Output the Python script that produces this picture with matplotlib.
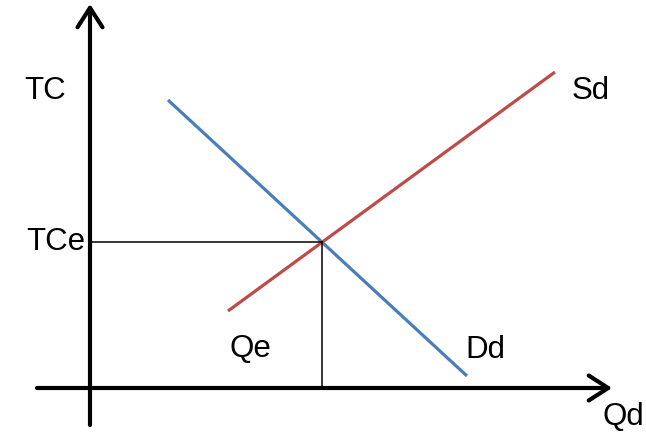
import matplotlib.pyplot as plt
import numpy as np

plt.rcParams['font.family'] = ['Liberation Sans', 'DejaVu Sans']

# end points of the two curves (quantity, cost)
demand_q = [78, 377]
demand_tc = [288, 12]
supply_q = [138, 465]
supply_tc = [77, 316]

# equilibrium where the two lines cross
md = (demand_tc[1] - demand_tc[0]) / (demand_q[1] - demand_q[0])
ms = (supply_tc[1] - supply_tc[0]) / (supply_q[1] - supply_q[0])
bd = demand_tc[0] - md * demand_q[0]
bs = supply_tc[0] - ms * supply_q[0]
qe = (bs - bd) / (md - ms)
tce = md * qe + bd

fig = plt.figure(figsize=(6.46, 4.32), dpi=100)
ax = fig.add_axes([0, 0, 1, 1])
ax.set_xlim(-90, 556)
ax.set_ylim(-44, 388)
ax.axis('off')

# axes with arrows
arrow = dict(arrowstyle='->, head_length=0.7, head_width=0.45', lw=3, color='black',
             mutation_scale=20, shrinkA=0, shrinkB=0)
ax.annotate('', xy=(522, 0), xytext=(-53, 0), arrowprops=arrow)
ax.annotate('', xy=(0, 384), xytext=(0, -37), arrowprops=arrow)

ax.plot(demand_q, demand_tc, color='#4a7ebb', lw=2.3, solid_capstyle='butt')
ax.plot(supply_q, supply_tc, color='#be4b48', lw=2.3, solid_capstyle='butt')

# guide lines to equilibrium
ax.plot([2, qe], [tce, tce], color='black', lw=1.1)
ax.plot([qe, qe], [tce, 1], color='black', lw=1.1)

fs = 22.5
ax.text(-45, 297, 'TC', fontsize=fs, ha='center', va='center')
ax.text(-5, tce, 'TCe', fontsize=fs, ha='right', va='center')
ax.text(501, 297, 'Sd', fontsize=fs, ha='center', va='center')
ax.text(160, 39, 'Qe', fontsize=fs, ha='center', va='center')
ax.text(395, 38, 'Dd', fontsize=fs, ha='center', va='center')
ax.text(533, -29, 'Qd', fontsize=fs, ha='center', va='center')

fig.savefig('out.png', dpi=100)
